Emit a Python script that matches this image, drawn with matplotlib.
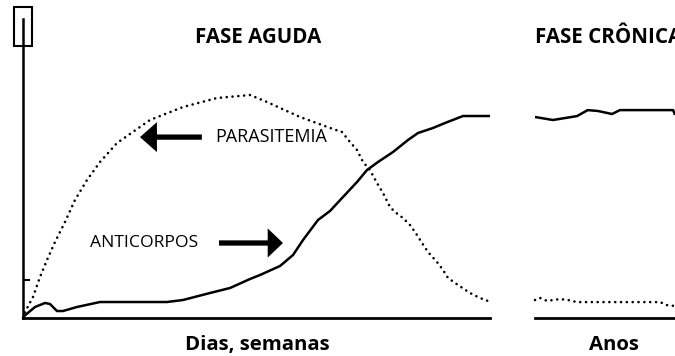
import matplotlib
matplotlib.use("Agg")
import matplotlib.pyplot as plt
from matplotlib.patches import FancyArrowPatch, Rectangle

# ---- data (arbitrary units: time 0-100 acute, 0-30 chronic; level 0-100) ----
acute_t_para = [0, 0.43, 2.14, 3.64, 5.14, 6.85, 8.99, 11.13, 13.7, 16.49, 20.13, 27.19,
                34.26, 41.54, 48.61, 52.25, 59.31, 66.38, 68.31, 70.02, 71.52, 72.81,
                74.30, 75.80, 77.09, 78.59, 79.66, 81.37, 82.87, 84.37, 85.44, 86.72,
                88.65, 89.94, 91.01, 93.15, 95.72, 97.86, 99.57, 100]
acute_parasitemia = [0, 2, 7, 13.67, 19.33, 25.33, 32, 39.33, 46, 52, 58.33, 66,
                     70.33, 73.33, 74.33, 72, 67, 63, 62, 58.67, 56, 52,
                     49.33, 45, 41.67, 37, 35.33, 33.33, 31, 27.67, 25, 22,
                     18.67, 16, 13.33, 11, 8.33, 6.67, 5.67, 5.33]

acute_t_anti = [0, 2.57, 4.71, 5.78, 7.28, 8.57, 11.56, 16.49, 30.84, 34.26, 40.04, 44.33,
                48.61, 50.75, 55.03, 57.82, 59.96, 63.17, 65.74, 68.52, 71.52, 73.66,
                76.02, 79.23, 82.44, 84.58, 87.79, 90.36, 94.22, 100]
acute_antibodies = [0.33, 3.67, 5, 4.67, 2.33, 2.33, 3.67, 5.33, 5.33, 6, 8.33, 10,
                    13, 14.33, 17.33, 21, 26, 32.67, 35.67, 40.33, 45.33, 49.33,
                    52, 55.33, 59.33, 61.67, 63.33, 65, 67.33, 67.33]

chronic_t_anti = [0, 3.85, 9.0, 11.3, 13.5, 16.5, 18.2, 29.6, 30]
chronic_antibodies = [67, 66, 67.3, 69.3, 69, 68, 69.3, 69.3, 67.7]

chronic_t_para = [0, 1.07, 2.57, 5.35, 7.07, 9.0, 26.1, 26.8, 28.3, 30]
chronic_parasitemia = [6, 6.7, 5.7, 6.3, 6, 5.3, 5.3, 5.3, 4.3, 4]

title_acute = "FASE AGUDA"
title_chronic = "FASE CRÔNICA"
xlabel_acute = "Dias, semanas"
xlabel_chronic = "Anos"
label_para = "PARASITEMIA"
label_anti = "ANTICORPOS"

# ---- figure ----
W, H = 675, 356
plt.rcParams['font.family'] = ['Open Sans', 'DejaVu Sans']
fig = plt.figure(figsize=(W / 100, H / 100), dpi=100)

def px_axes(x0, x1, ytop, ybot):
    return fig.add_axes([x0 / W, (H - ybot) / H, (x1 - x0) / W, (ybot - ytop) / H])

ax = px_axes(23, 490, 18, 318)
ax.set_xlim(0, 100)
ax.set_ylim(0, 100)
axc = px_axes(535, 675, 18, 318)
axc.set_xlim(0, 30)
axc.set_ylim(0, 100)

for a in (ax, axc):
    a.patch.set_visible(False)
    for s in ('top', 'right'):
        a.spines[s].set_visible(False)
    a.spines['bottom'].set_linewidth(2.0)
    a.set_xticks([])
axc.spines['left'].set_visible(False)
axc.set_yticks([])
ax.spines['left'].set_linewidth(1.8)
ax.spines['left'].set_bounds(0, 99.7)
ax.set_yticks([12.7])
ax.set_yticklabels([])
ax.tick_params(axis='y', direction='in', length=5, width=1.5)

# box at top of y axis
ax.add_patch(Rectangle((-1.93, 90.7), 3.86, 13, fill=False, lw=1.5,
                       edgecolor='black', clip_on=False))

dot = dict(color='black', lw=1.9, linestyle=(0, (0.01, 2.2)),
           dash_capstyle='round', clip_on=False)
solid = dict(color='black', lw=1.8, solid_capstyle='butt', clip_on=False)

ax.plot(acute_t_para, acute_parasitemia, **dot)
ax.plot(acute_t_anti, acute_antibodies, **solid)
axc.plot(chronic_t_para, chronic_parasitemia, **dot)
axc.plot(chronic_t_anti, chronic_antibodies, **solid)

# arrows
def arrow(x_tail, x_tip, y, hl, hw, tw):
    ax.add_patch(FancyArrowPatch((x_tail, y), (x_tip, y),
                                 arrowstyle=f"simple,head_length={hl},head_width={hw},tail_width={tw}",
                                 mutation_scale=1, color='black', shrinkA=0, shrinkB=0, lw=0))

arrow(38.3, 25.05, 60.3, 12.2, 21.6, 3.8)
arrow(41.97, 55.67, 25, 11, 21, 3.8)

ax.text(41.1, 60.3, label_para, fontsize=13, ha='left', va='center')
ax.text(14.35, 25, label_anti, fontsize=12.6, ha='left', va='center')

fig.text(258 / W, 1 - 43 / H, title_acute, fontsize=14.8, fontweight='bold',
         ha='center', va='baseline')
fig.text(535 / W, 1 - 43 / H, title_chronic, fontsize=14.8, fontweight='bold',
         ha='left', va='baseline')
fig.text(257 / W, 1 - 350 / H, xlabel_acute, fontsize=14.7, fontweight='bold',
         ha='center', va='baseline')
fig.text(614 / W, 1 - 350 / H, xlabel_chronic, fontsize=14.7, fontweight='bold',
         ha='center', va='baseline')

fig.savefig("out.png", dpi=100)
